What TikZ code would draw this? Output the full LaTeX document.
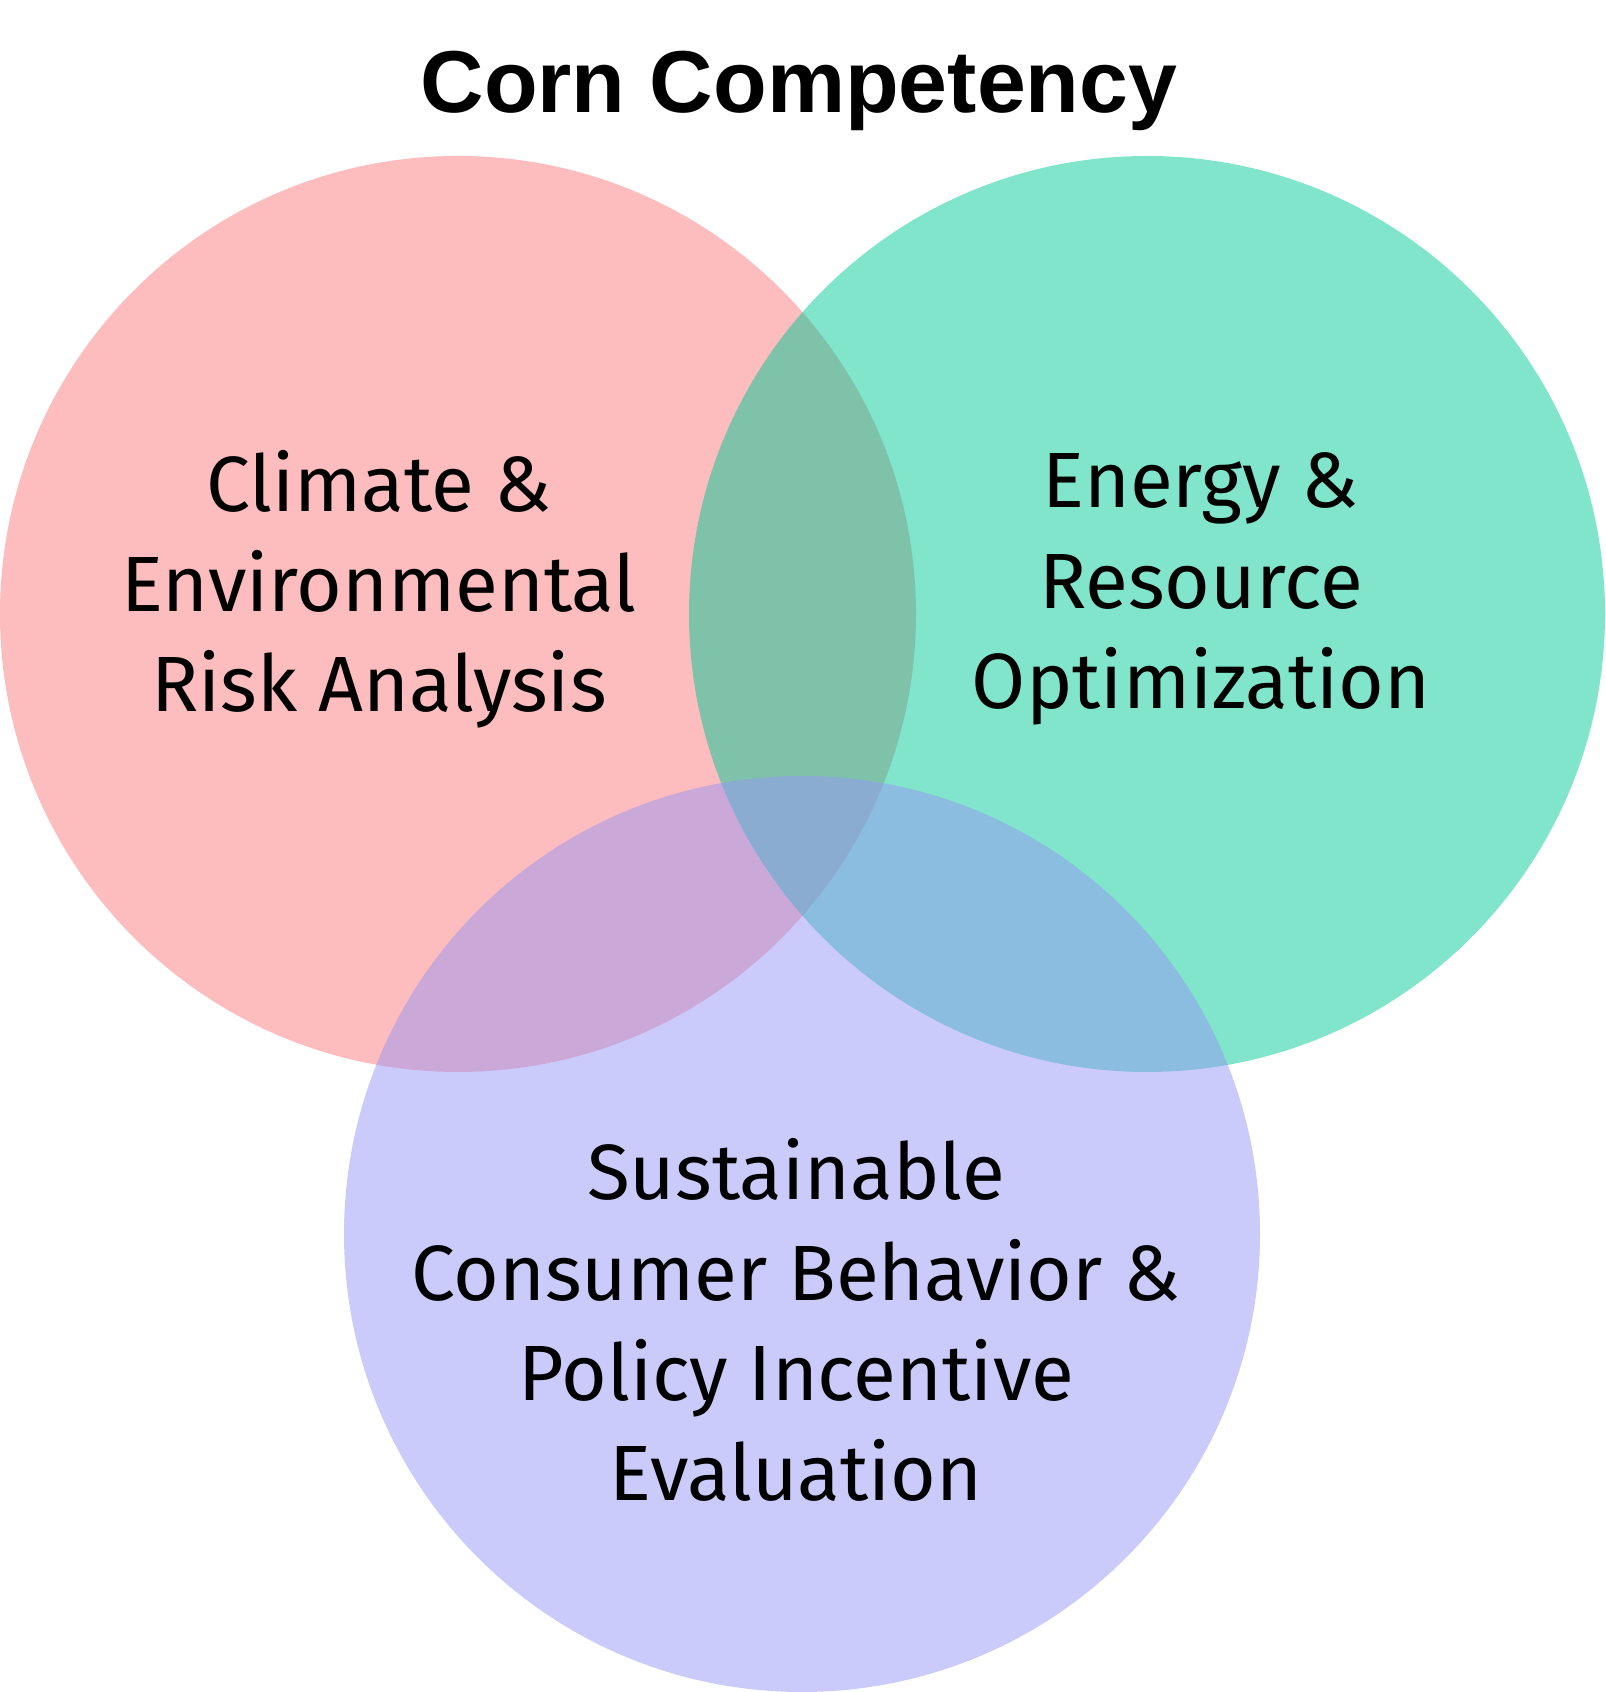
\documentclass[tikz,border=0pt]{standalone}
\usepackage{fontspec}
\setmainfont{Fira Sans}
\newfontfamily\titlefont{Liberation Sans}
\usepackage{tikz}
\usetikzlibrary{positioning}

\definecolor{climatered}{RGB}{251,121,123}
\definecolor{energygreen}{RGB}{1,203,151}
\definecolor{policyblue}{RGB}{151,151,247}

\begin{document}
\begin{tikzpicture}[
    blob/.style={circle, minimum size=9.16cm, inner sep=0pt, fill opacity=0.5},
    label/.style={align=center, text=black, font={\fontsize{22.3}{28.5}\selectfont}}
  ]
  \useasboundingbox (0,0) rectangle (16.05,16.92);

  % Circles
  \node[blob, fill=climatered] (C) at (4.58,10.78) {};
  \node[blob, fill=energygreen] (E) at (11.47,10.78) {};
  \node[blob, fill=policyblue] (P) at (8.02,4.58) {};

  % Title
  \node[font={\titlefont\bfseries\fontsize{25}{30}\selectfont}] (T) at (7.99,16.01) {Corn Competency};

  % Labels
  \node[label] (CL) at (3.79,11.03) {Climate \&\\Environmental\\Risk Analysis};
  \node[label] (EL) at (12.01,11.03) {Energy \&\\Resource\\Optimization};
  \node[label] (PL) at (7.96,3.72) {Sustainable\\Consumer Behavior \&\\Policy Incentive\\Evaluation};
\end{tikzpicture}
\end{document}
